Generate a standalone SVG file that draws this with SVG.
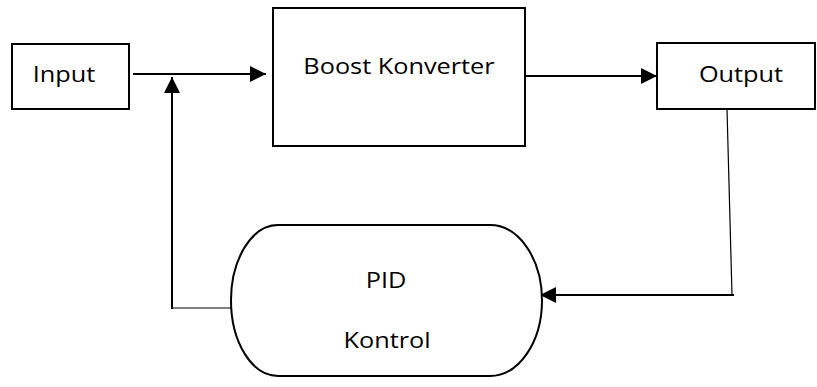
<svg xmlns="http://www.w3.org/2000/svg" width="817" height="387" viewBox="0 0 817 387">
  <style>
    .box { fill: #fff; stroke: #000; stroke-width: 2; }
    .lbl { font-family: "Open Sans", "Liberation Sans", sans-serif; font-size: 22px; fill: #000; text-anchor: middle; }
    .wire { fill: none; stroke: #000; stroke-width: 2; }
    .thin { fill: none; stroke: #000; stroke-width: 1.2; }
  </style>
  <defs>
    <marker id="arrow" viewBox="0 0 16 16" refX="16" refY="8" markerWidth="16" markerHeight="16" markerUnits="userSpaceOnUse" orient="auto">
      <path d="M0,0 L16,8 L0,16 Z" fill="#000"/>
    </marker>
  </defs>
  <rect width="817" height="387" fill="#fff"/>

  <g id="connectors">
    <!-- forward path -->
    <line class="wire" x1="133" y1="74" x2="266" y2="74" marker-end="url(#arrow)"/>
    <line class="wire" x1="525" y1="76" x2="657" y2="76" marker-end="url(#arrow)"/>
    <!-- feedback path -->
    <line class="thin" x1="727" y1="109" x2="732" y2="295"/>
    <line class="wire" x1="734" y1="295" x2="540" y2="295" marker-end="url(#arrow)"/>
    <line class="thin" x1="172" y1="308" x2="235" y2="308"/>
    <line class="wire" x1="172" y1="309" x2="172" y2="77" marker-end="url(#arrow)"/>
  </g>

  <g id="input">
    <rect class="box" x="12" y="44" width="117" height="65"/>
    <text class="lbl" transform="translate(64,82) scale(1.15,1)">Input</text>
  </g>

  <g id="boost">
    <rect class="box" x="273" y="8" width="252" height="138"/>
    <text class="lbl" transform="translate(399,74) scale(1.15,1)">Boost Konverter</text>
  </g>

  <g id="output">
    <rect class="box" x="657" y="43" width="158" height="66"/>
    <text class="lbl" transform="translate(741,82) scale(1.15,1)">Output</text>
  </g>

  <g id="pid">
    <path class="box" d="M278,225 L490,225 A52,75.5 0 0 1 490,376 L278,376 A47,75.5 0 0 1 278,225 Z"/>
    <text class="lbl" transform="translate(386,288) scale(1.15,1)">PID</text>
    <text class="lbl" transform="translate(387,348) scale(1.15,1)">Kontrol</text>
  </g>
</svg>
